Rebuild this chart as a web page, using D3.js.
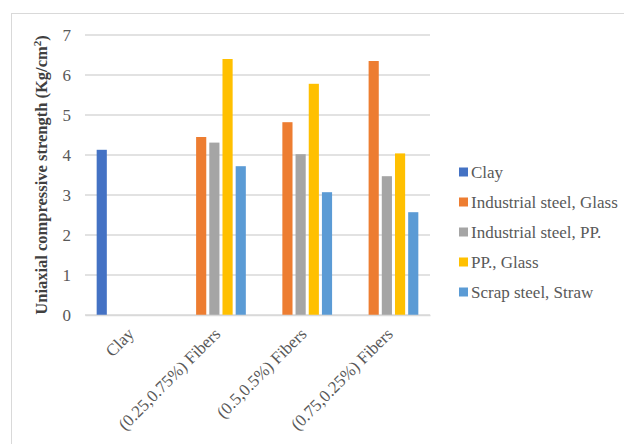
<!DOCTYPE html>
<html><head><meta charset="utf-8">
<script src="https://cdn.jsdelivr.net/npm/d3@7"></script>
</head><body style="margin:0;background:#fff"><svg id="c" width="624" height="444" style="display:block" font-family="Liberation Serif"></svg>
<script>
const categories = ["Clay", "(0.25,0.75%) Fibers", "(0.5,0.5%) Fibers", "(0.75,0.25%) Fibers"];
const seriesNames = ["Clay", "Industrial steel, Glass", "Industrial steel, PP.", "PP., Glass", "Scrap steel, Straw"];
const seriesColors = ["#4472c4", "#ed7d31", "#a5a5a5", "#ffc000", "#5b9bd5"];
const clayValues = [4.13, null, null, null];
const indSteelGlass = [null, 4.45, 4.82, 6.35];
const indSteelPP = [null, 4.31, 4.02, 3.47];
const ppGlass = [null, 6.40, 5.78, 4.04];
const scrapStraw = [null, 3.72, 3.07, 2.57];
const yTicks = [0, 1, 2, 3, 4, 5, 6, 7];
const seriesValues = [clayValues, indSteelGlass, indSteelPP, ppGlass, scrapStraw];

(function () {
const svg = d3.select("#c");
svg.append("rect").attr("x", 11.5).attr("y", 13.5).attr("width", 640).attr("height", 460)
  .attr("fill", "#fff").attr("stroke", "#d9d9d9").attr("stroke-width", 1);

const mLeft = 85, mRight = 430, mTop = 35, mBottom = 315;
const y = d3.scaleLinear().domain([0, 7]).range([mBottom, mTop]);
const x0 = d3.scaleBand().domain(categories).range([mLeft, mRight]).paddingInner(0.24).paddingOuter(0.12);
const x1 = d3.scaleBand().domain(seriesNames).range([0, x0.bandwidth()]).paddingInner(0.23).paddingOuter(0.1);

svg.append("g").selectAll("line").data(yTicks).join("line")
  .attr("x1", mLeft).attr("x2", mRight).attr("y1", d => y(d)).attr("y2", d => y(d))
  .attr("stroke", "#d9d9d9").attr("stroke-width", 1.3);

const yAxis = d3.axisLeft(y).tickValues(yTicks).tickFormat(d3.format("d")).tickSize(0).tickPadding(14);
const ya = svg.append("g").attr("transform", `translate(${mLeft},0)`).call(yAxis);
ya.attr("font-family", null).attr("font-size", null);
ya.select(".domain").remove();
ya.selectAll("text").attr("font-size", 17).attr("fill", "#595959");

const g = svg.append("g");
seriesNames.forEach((s, i) => {
  g.append("g").selectAll("rect")
    .data(categories.map((c, j) => ({c, v: seriesValues[i][j]})).filter(d => d.v != null))
    .join("rect")
    .attr("x", d => x0(d.c) + x1(s))
    .attr("width", x1.bandwidth())
    .attr("y", d => y(d.v))
    .attr("height", d => y(0) - y(d.v))
    .attr("fill", seriesColors[i]);
});

const xAxis = d3.axisBottom(x0).tickSize(0).tickPadding(0);
const xa = svg.append("g").attr("transform", `translate(0,${mBottom})`).call(xAxis);
xa.attr("font-family", null).attr("font-size", null);
xa.select(".domain").attr("stroke", "#d9d9d9").attr("stroke-width", 1.3);
xa.selectAll("text")
  .attr("font-size", 17).attr("fill", "#595959")
  .attr("text-anchor", "end").attr("dy", 0).attr("y", 0)
  .attr("transform", "translate(7,20) rotate(-45)");

const t = svg.append("text").attr("transform", "translate(47,175) rotate(-90)")
  .attr("text-anchor", "middle").attr("font-size", 16.5).attr("font-weight", "bold").attr("fill", "#404040");
t.append("tspan").text("Uniaxial compressive strength (Kg/cm");
t.append("tspan").attr("font-size", 11).attr("dy", -6).text("2");
t.append("tspan").attr("dy", 6).text(")");

const lg = svg.append("g").selectAll("g").data(seriesNames).join("g")
  .attr("transform", (d, i) => `translate(459,${172 + i * 30})`);
lg.append("rect").attr("x", 0).attr("y", -4.5).attr("width", 9).attr("height", 9).attr("fill", (d, i) => seriesColors[i]);
lg.append("text").attr("x", 12).attr("y", 5.5)
  .attr("font-size", 17).attr("fill", "#595959").text(d => d);

svg.selectAll("text").style("font-family", "'Liberation Serif', 'Times New Roman', serif");
})();
</script></body></html>
